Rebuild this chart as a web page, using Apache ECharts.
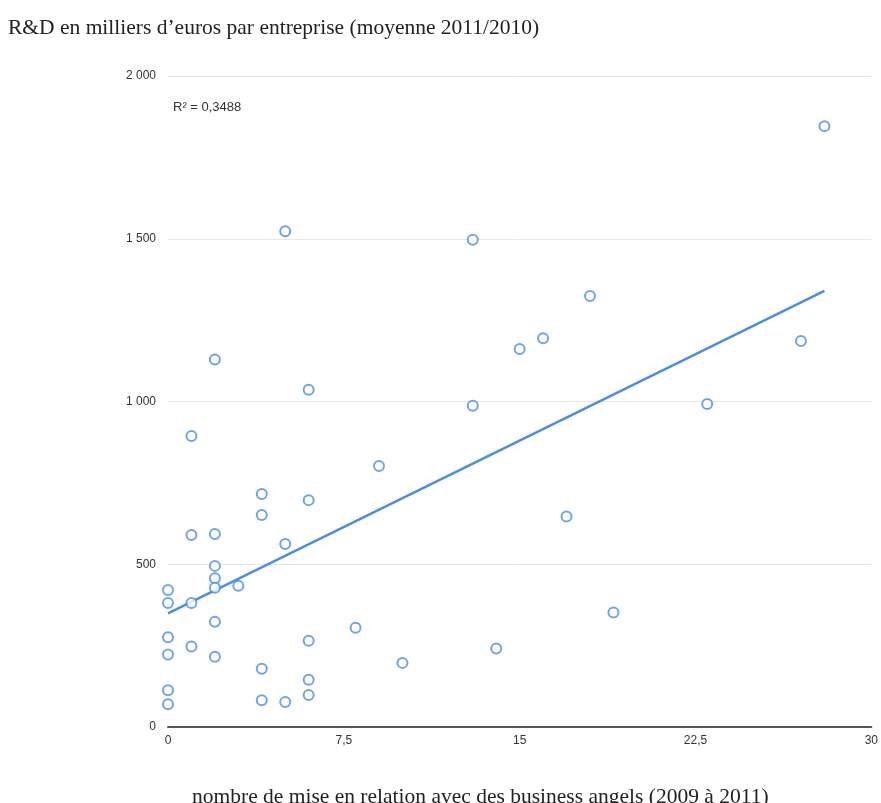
<!DOCTYPE html>
<html>
<head>
<meta charset="utf-8">
<script src="https://cdn.jsdelivr.net/npm/echarts@6/dist/echarts.min.js"></script>
<style>html,body{margin:0;padding:0;background:#fff;}#c{width:881px;height:803px;}</style>
</head>
<body>
<div id="c"></div>
<script>
// number of business-angel introductions (2009-2011)
const xValues = [0,0,0,0,0,0, 1,1,1,1, 2,2,2,2,2,2,2, 3, 4,4,4,4, 5,5,5, 6,6,6,6,6, 8, 9, 10, 13,13, 14, 15, 16, 17, 18, 19, 23, 27, 28];
// R&D in thousand euros per company
const yValues = [421,381,276,223,113,70, 894,590,381,247, 1129,593,495,457,428,323,216, 434, 716,651,179,82, 1523,562,77, 1036,697,265,145,98, 305, 802, 197, 1497,987, 241, 1161, 1194, 647, 1324, 352, 992, 1186, 1846];
// trend line endpoints
const trendX = [0, 28];
const trendY = [349, 1340];
const xTicks = [0, 7.5, 15, 22.5, 30];
const yTicks = [0, 500, 1000, 1500, 2000];
const titleText = "R&D en milliers d\u2019euros par entreprise (moyenne 2011/2010)";
const xAxisName = "nombre de mise en relation avec des business angels (2009 \u00e0 2011)";
const r2Text = "R\u00b2 = 0,3488";

const points = xValues.map((x, i) => [x, yValues[i]]);
const trend = trendX.map((x, i) => [x, trendY[i]]);
const blue = '#4A8FE0';

const chart = echarts.init(document.getElementById('c'));
chart.setOption({
  animation: false,
  backgroundColor: '#fff',
  title: [
    {text: titleText, left: 3, top: 12, textStyle: {fontFamily: 'Liberation Serif', fontSize: 21.5, fontWeight: 'normal', color: '#222'}},
    {text: xAxisName, left: 187, top: 781, textStyle: {fontFamily: 'Liberation Serif', fontSize: 21.5, fontWeight: 'normal', color: '#222'}},
    {text: r2Text, left: 168, top: 96, textStyle: {fontFamily: 'Liberation Sans', fontSize: 13, fontWeight: 'normal', color: '#333'}}
  ],
  grid: {left: 168, right: 6, top: 76, bottom: 76, containLabel: false},
  xAxis: {
    type: 'value', min: 0, max: 30, interval: 7.5,
    axisLine: {show: true, onZero: false, lineStyle: {color: '#555', width: 2}},
    axisTick: {show: false},
    splitLine: {show: false},
    axisLabel: {
      margin: 8, color: '#333', fontFamily: 'Liberation Sans', fontSize: 12,
      formatter: v => xTicks.includes(v) ? String(v).replace('.', ',') : ''
    }
  },
  yAxis: {
    type: 'value', min: 0, max: 2000, interval: 500,
    axisLine: {show: false},
    axisTick: {show: false},
    splitLine: {show: true, lineStyle: {color: '#e8e8e8', width: 1}},
    axisLabel: {
      margin: 12, color: '#333', fontFamily: 'Liberation Sans', fontSize: 12,
      formatter: v => yTicks.includes(v) ? String(v).replace(/\B(?=(\d{3})+(?!\d))/g, ' ') : ''
    }
  },
  series: [
    {
      type: 'line', data: trend, showSymbol: false, symbol: 'none',
      lineStyle: {color: blue, width: 2.5}, z: 1, silent: true
    },
    {
      type: 'scatter', data: points, symbol: 'emptyCircle', symbolSize: 10,
      itemStyle: {color: blue, borderWidth: 2.2}, z: 2
    }
  ]
});
</script>
</body>
</html>
